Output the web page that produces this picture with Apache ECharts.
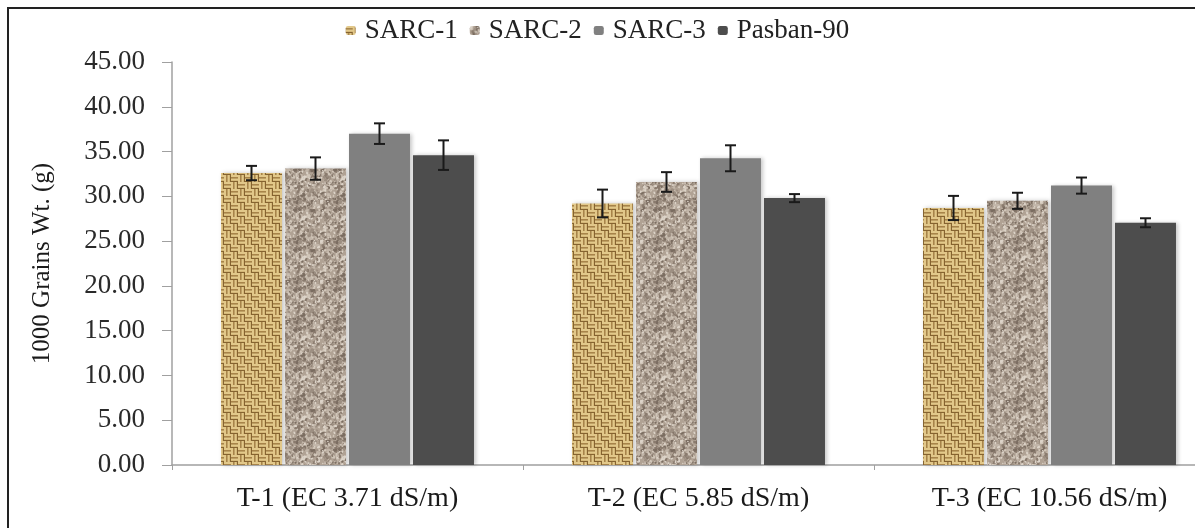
<!DOCTYPE html>
<html>
<head>
<meta charset="utf-8">
<script src="https://cdn.jsdelivr.net/npm/echarts@6/dist/echarts.min.js"></script>
<style>
  html, body { margin: 0; padding: 0; background: #fff; overflow: hidden; }
  #chart { width: 1195px; height: 528px; }
</style>
</head>
<body>
<div id="chart"></div>
<script>
// Salinity treatments and 1000-grain weight (g) of four wheat varieties
const categories = ['T-1 (EC 3.71 dS/m)', 'T-2 (EC 5.85 dS/m)', 'T-3 (EC 10.56 dS/m)'];
const seriesNames = ['SARC-1', 'SARC-2', 'SARC-3', 'Pasban-90'];

const sarc1 = [32.6, 29.2, 28.7];
const sarc2 = [33.1, 31.6, 29.5];
const sarc3 = [37.0, 34.25, 31.2];
const pasban90 = [34.6, 29.8, 27.05];

// standard errors
const sarc1Err = [0.8, 1.55, 1.35];
const sarc2Err = [1.25, 1.1, 0.9];
const sarc3Err = [1.15, 1.45, 0.9];
const pasban90Err = [1.65, 0.45, 0.5];

const yTicks = { min: 0, max: 45, interval: 5 };

const FONT = "'Liberation Serif', 'Times New Roman', serif";
const BAR_W = 61;
const BAR_GAP = 3;

// deterministic pseudo-random generator for the textures
function lcg(seed) {
  let s = seed >>> 0;
  return function () {
    s = (s * 1664525 + 1013904223) >>> 0;
    return s / 4294967296;
  };
}

// basket-weave fill, slightly softened
function weavePattern() {
  const n = 14;
  const raw = document.createElement('canvas');
  raw.width = n; raw.height = n;
  const g = raw.getContext('2d');
  g.fillStyle = '#b99350';
  g.fillRect(0, 0, n, n);
  for (let qy = 0; qy < 2; qy++) {
    for (let qx = 0; qx < 2; qx++) {
      const ox = qx * 7, oy = qy * 7;
      const horiz = (qx + qy) % 2 === 0;
      for (let k = 0; k < 2; k++) {
        g.fillStyle = '#e2c88a';
        if (horiz) g.fillRect(ox, oy + k * 3.5, 7, 2.2);
        else g.fillRect(ox + k * 3.5, oy, 2.2, 7);
        g.fillStyle = '#7f5e2d';
        if (horiz) g.fillRect(ox, oy + k * 3.5 + 2.6, 7, 0.9);
        else g.fillRect(ox + k * 3.5 + 2.6, oy, 0.9, 7);
      }
    }
  }
  // tile 3x3 then blur the centre copy so edges wrap seamlessly
  const big = document.createElement('canvas');
  big.width = n * 3; big.height = n * 3;
  const bg = big.getContext('2d');
  for (let i = 0; i < 3; i++) for (let j = 0; j < 3; j++) bg.drawImage(raw, i * n, j * n);
  const out = document.createElement('canvas');
  out.width = n; out.height = n;
  const og = out.getContext('2d');
  og.filter = 'blur(0.45px)';
  og.drawImage(big, -n, -n);
  return out;
}

// speckled granite fill
function granitePattern() {
  const n = 40;
  const c = document.createElement('canvas');
  c.width = n; c.height = n;
  const g = c.getContext('2d');
  g.fillStyle = '#b0a294';
  g.fillRect(0, 0, n, n);
  const rnd = lcg(7321);
  const cols = ['#8a7b6e', '#d1c6b9', '#9c8e81', '#dcd3c8', '#7b6d61', '#c2b6a9'];
  for (let i = 0; i < 420; i++) {
    const x = rnd() * n, y = rnd() * n;
    const r = 0.5 + rnd() * 1.0;
    g.fillStyle = cols[Math.floor(rnd() * cols.length)];
    g.beginPath();
    g.ellipse(x, y, r * 1.5, r, rnd() * Math.PI, 0, Math.PI * 2);
    g.fill();
  }
  return c;
}

const fills = [
  { image: weavePattern(), repeat: 'repeat' },
  { image: granitePattern(), repeat: 'repeat' },
  '#808080',
  '#4d4d4d'
];

const values = [sarc1, sarc2, sarc3, pasban90];
const errors = [sarc1Err, sarc2Err, sarc3Err, pasban90Err];

const barSeries = values.map((vals, i) => ({
  name: seriesNames[i],
  type: 'bar',
  data: vals,
  barWidth: BAR_W,
  barGap: (BAR_GAP / BAR_W * 100).toFixed(1) + '%',
  itemStyle: {
    color: fills[i],
    shadowColor: 'rgba(0,0,0,0.22)',
    shadowBlur: 4,
    shadowOffsetX: 2
  },
  z: 2
}));

const errorSeries = values.map((vals, i) => ({
  name: seriesNames[i] + ' SE',
  type: 'custom',
  data: vals.map((v, j) => [j, v, errors[i][j]]),
  z: 5,
  silent: true,
  renderItem: function (params, api) {
    const v = api.value(1), e = api.value(2);
    const offset = (i - 1.5) * (BAR_W + BAR_GAP);
    const x = api.coord([api.value(0), v])[0] + offset;
    const yTop = api.coord([api.value(0), v + e])[1];
    const yBot = api.coord([api.value(0), v - e])[1];
    const cap = 5.5;
    const style = { stroke: '#1a1a1a', lineWidth: 2 };
    return {
      type: 'group',
      children: [
        { type: 'line', shape: { x1: x, y1: yTop, x2: x, y2: yBot }, style },
        { type: 'line', shape: { x1: x - cap, y1: yTop, x2: x + cap, y2: yTop }, style },
        { type: 'line', shape: { x1: x - cap, y1: yBot, x2: x + cap, y2: yBot }, style }
      ]
    };
  }
}));

const chart = echarts.init(document.getElementById('chart'), null, { renderer: 'canvas' });
chart.setOption({
  animation: false,
  backgroundColor: '#ffffff',
  textStyle: { fontFamily: FONT },
  graphic: [{
    type: 'rect',
    shape: { x: 8, y: 8, width: 1300, height: 700 },
    style: { fill: 'none', stroke: '#222', lineWidth: 2 },
    z: 10
  }],
  legend: {
    data: seriesNames,
    top: 12,
    left: 'center',
    itemWidth: 10,
    itemHeight: 9,
    itemGap: 12,
    textStyle: { fontFamily: FONT, fontSize: 27, color: '#222', padding: [0, 0, 0, 4] }
  },
  grid: {
    left: 172, top: 62, width: 1053, height: 403,
    containLabel: false, outerBoundsMode: 'none'
  },
  xAxis: {
    type: 'category',
    data: categories,
    axisLine: { lineStyle: { color: '#a0a0a0', width: 1.5 } },
    axisTick: { show: true, length: 5, lineStyle: { color: '#a0a0a0' } },
    axisLabel: { fontFamily: FONT, fontSize: 28, color: '#1a1a1a', margin: 20 }
  },
  yAxis: {
    type: 'value',
    min: yTicks.min,
    max: yTicks.max,
    interval: yTicks.interval,
    name: '1000 Grains Wt. (g)',
    nameLocation: 'middle',
    nameGap: 117,
    nameRotate: 90,
    nameTextStyle: { fontFamily: FONT, fontSize: 25, color: '#1a1a1a' },
    axisLine: { show: true, lineStyle: { color: '#a0a0a0', width: 1.5 } },
    axisTick: { show: true, length: 10, lineStyle: { color: '#a0a0a0' } },
    splitLine: { show: false },
    axisLabel: {
      fontFamily: FONT, fontSize: 27, color: '#2a2a2a', margin: 27,
      formatter: v => v.toFixed(2)
    }
  },
  series: barSeries.concat(errorSeries)
});
</script>
</body>
</html>
